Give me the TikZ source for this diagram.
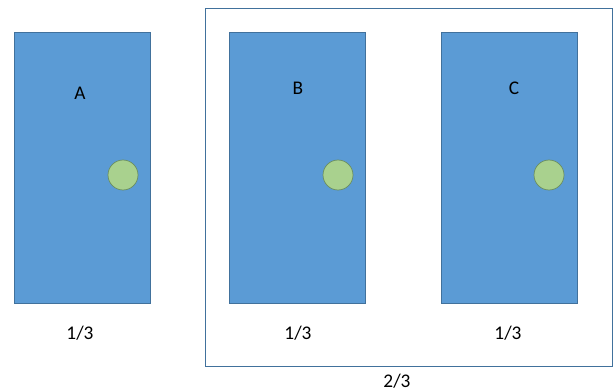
\documentclass[tikz,border=0pt]{standalone}
\usepackage{fontspec}
\setmainfont{Carlito}
\usetikzlibrary{positioning}
\definecolor{boxblue}{HTML}{5B9BD5}
\definecolor{edgeblue}{HTML}{41719C}
\definecolor{dotgreen}{HTML}{A9D18E}
\definecolor{dotedge}{HTML}{6A8E60}

\begin{document}
\begin{tikzpicture}[x=0.03cm,y=-0.03cm, every node/.style={font=\fontsize{16.5}{19}\selectfont},
  part/.style={draw=edgeblue,fill=boxblue,line width=0.7pt,minimum width=4.08cm,minimum height=8.13cm,inner sep=0pt},
  dot/.style={circle,draw=dotedge,fill=dotgreen,line width=0.6pt,minimum size=0.9cm,inner sep=0pt}]
\useasboundingbox (0,0) rectangle (614,391);
\node[draw=edgeblue,line width=0.8pt,minimum width=12.21cm,minimum height=10.74cm,inner sep=0pt] (group) at (408.5,187) {};
\node[part] (a) at (82,167.5) {};
\node[part] (b) at (297,167.5) {};
\node[part] (c) at (509,167.5) {};
\node[dot] (da) at (123,175) {};
\node[dot] (db) at (338,175) {};
\node[dot] (dc) at (549,175) {};
\node (la) at (80,93) {A};
\node (lb) at (298,88) {B};
\node (lc) at (514,88) {C};
\node (fa) at (80,333) {1/3};
\node (fb) at (298,333) {1/3};
\node (fc) at (508,333) {1/3};
\node (fg) at (397,381) {2/3};
\end{tikzpicture}
\end{document}
